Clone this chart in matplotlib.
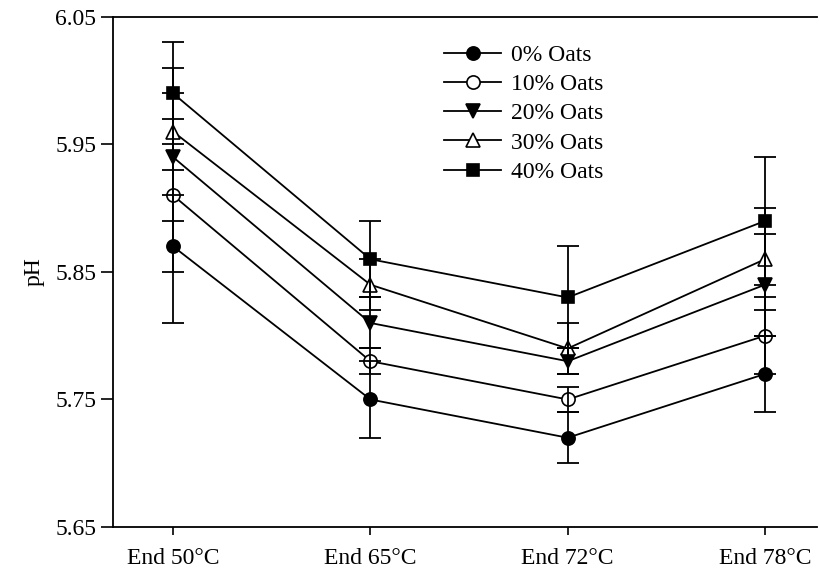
import matplotlib
matplotlib.use("Agg")
import matplotlib.pyplot as plt
import numpy as np

plt.rcParams['font.family'] = ['Liberation Serif', 'DejaVu Serif']

categories = ["End 50°C", "End 65°C", "End 72°C", "End 78°C"]
series_names = ["0% Oats", "10% Oats", "20% Oats", "30% Oats", "40% Oats"]
ph_0 = [5.87, 5.75, 5.72, 5.77]
ph_10 = [5.91, 5.78, 5.75, 5.80]
ph_20 = [5.94, 5.81, 5.78, 5.84]
ph_30 = [5.96, 5.84, 5.79, 5.86]
ph_40 = [5.99, 5.86, 5.83, 5.89]
err_0 = [0.06, 0.03, 0.02, 0.03]
err_10 = [0.06, 0.01, 0.01, 0.03]
err_20 = [0.05, 0.02, 0.01, 0.04]
err_30 = [0.05, 0.02, 0.02, 0.04]
err_40 = [0.04, 0.03, 0.04, 0.05]
yticks = [5.65, 5.75, 5.85, 5.95, 6.05]

values = [ph_0, ph_10, ph_20, ph_30, ph_40]
errors = [err_0, err_10, err_20, err_30, err_40]
markers = ['o', 'o', 'v', '^', 's']
faces = ['black', 'white', 'black', 'white', 'black']
msizes = [9.5, 9.5, 9.5, 9.5, 8.5]

fig = plt.figure(figsize=(8.19, 5.75), dpi=100)
ax = fig.add_axes([0.138, 0.0835, 0.8596, 0.887])
x = np.arange(len(categories))

for vals, errs, m, fc, ms, name in zip(values, errors, markers, faces, msizes, series_names):
    ax.plot(x, vals, color='black', lw=1.3, marker=m, markerfacecolor=fc,
            markeredgecolor='black', markeredgewidth=1.2, markersize=ms,
            label=name, zorder=2)
    ax.errorbar(x, vals, yerr=errs, fmt='none', ecolor='black', elinewidth=1.3,
                capsize=8, capthick=1.3, zorder=3)

ax.set_xlim(-0.305, 3.264)
ax.set_ylim(5.65, 6.05)
ax.set_yticks(yticks)
ax.set_yticklabels([f"{t:.2f}" for t in yticks])
ax.set_xticks(x)
ax.set_xticklabels(categories)
ax.spines['right'].set_visible(False)
for s in ['left', 'bottom', 'top']:
    ax.spines[s].set_linewidth(1.3)
ax.tick_params(axis='both', direction='out', labelsize=17, width=1.2)
ax.tick_params(axis='y', length=9, pad=3)
ax.tick_params(axis='x', length=6, pad=9)
ax.set_ylabel("pH", fontsize=17, labelpad=8)

leg = ax.legend(loc='upper left', bbox_to_anchor=(0.457, 0.965), frameon=False,
                fontsize=17, handlelength=2.4, handletextpad=0.45, labelspacing=0.33,
                borderaxespad=0)

fig.savefig("out.png", dpi=100)
